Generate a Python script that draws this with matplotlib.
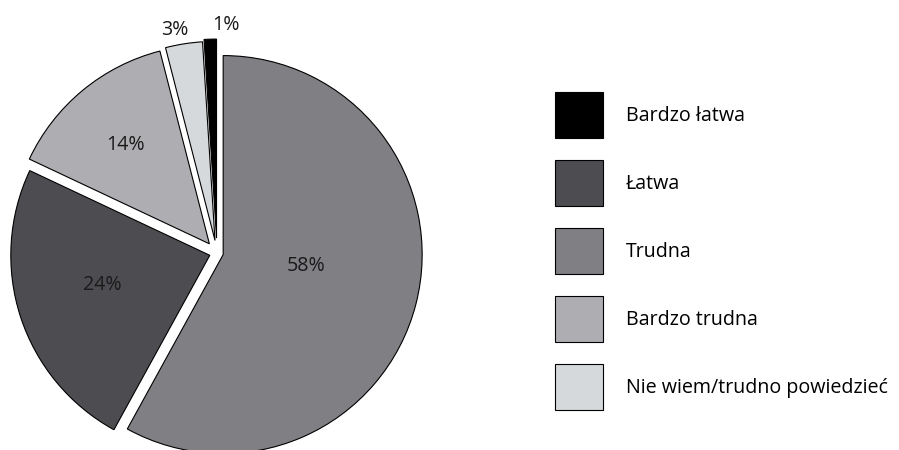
import numpy as np
import matplotlib
matplotlib.use("Agg")
import matplotlib.pyplot as plt

plt.rcParams['font.family'] = ['Open Sans', 'DejaVu Sans']

# slices in clockwise order from 12 o'clock
labels = ["Trudna", "Łatwa", "Bardzo trudna", "Nie wiem/trudno powiedzieć", "Bardzo łatwa"]
values = [58, 24, 14, 3, 1]
colors = ["#807f84", "#4d4c51", "#aeadb1", "#d6d9db", "#000000"]
explode = [0.032, 0.038, 0.06, 0.064, 0.075]
# where each percent label sits: fraction of radius and angle nudge (deg)
label_dist = [0.42, 0.56, 0.66, 1.09, 1.086]
label_turn = [8.4, -3.7, 0.0, 1.6, -4.2]
# legend order
legend_order = [4, 1, 0, 2, 3]

fs = 14.1
px = fs * 100 / 72

fig = plt.figure(figsize=(8.99, 4.5), dpi=100)
ax = fig.add_axes([0, 0, 450 / 899, 1])

wedges, _, pcts = ax.pie(values, colors=colors, explode=explode,
                         startangle=90, counterclock=False, radius=1,
                         autopct=lambda p: f"{round(p)}%",
                         wedgeprops=dict(edgecolor="black", linewidth=0.8),
                         textprops=dict(fontsize=fs, color="#1a1a1a"))

# put percentages where the reference has them
for w, t, d, a in zip(wedges, pcts, label_dist, label_turn):
    mid = np.deg2rad((w.theta1 + w.theta2) / 2 + a)
    cx, cy = w.center
    t.set_position((cx + d * w.r * np.cos(mid), cy + d * w.r * np.sin(mid)))
    t.set_ha("center")
    t.set_va("center_baseline")

# pie centre at about (217, 253) px, radius ~199 px
scale = 199
ax.set_xlim(-217 / scale, (450 - 217) / scale)
ax.set_ylim(-(450 - 253) / scale, 253 / scale)
ax.set_aspect("auto")
ax.axis("off")

handles = [wedges[i] for i in legend_order]
names = [labels[i] for i in legend_order]
# legend box height = fs*(0.65*hh + 0.245)
hh = (46 / px - 0.245) / 0.65
fig.legend(handles, names, loc="upper left",
           bbox_to_anchor=(555 / 899, 1 - 92 / 450),
           bbox_transform=fig.transFigure,
           frameon=False, fontsize=fs, borderpad=0, borderaxespad=0,
           handlelength=48 / px, handleheight=hh,
           labelspacing=22 / px, handletextpad=23 / px)

fig.savefig("out.png", dpi=100)
